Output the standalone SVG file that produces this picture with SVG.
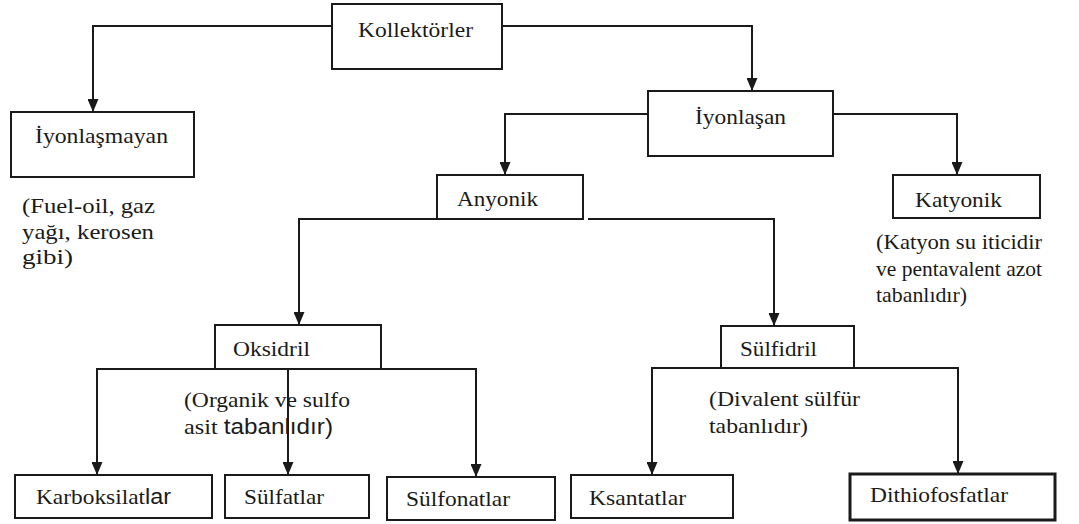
<svg xmlns="http://www.w3.org/2000/svg" width="1079" height="524" viewBox="0 0 1079 524">
<style>
.box{fill:#fff;stroke:#1a1a1a;stroke-width:2}
.thick{stroke-width:3}
.t{font-family:"Liberation Serif","Tinos","Noto Serif","DejaVu Serif","Times New Roman",Times,serif;font-size:22px;fill:#1a1a1a}
.s{font-family:"Liberation Sans",Arial,sans-serif}
.c{fill:none;stroke:#1a1a1a;stroke-width:2}
</style>
<defs>
<marker id="ah" markerUnits="userSpaceOnUse" markerWidth="13" markerHeight="11" refX="13" refY="5.5" orient="auto">
<path d="M0,0 L13,5.5 L0,11 z" fill="#1a1a1a"/>
</marker>
</defs>
<rect width="1079" height="524" fill="#fff"/>
<g id="connectors">
<path class="c" d="M332,26 H93 V112" marker-end="url(#ah)"/>
<path class="c" d="M502,26 H752 V91" marker-end="url(#ah)"/>
<path class="c" d="M648,114 H505 V175" marker-end="url(#ah)"/>
<path class="c" d="M833,114 H957 V175" marker-end="url(#ah)"/>
<path class="c" d="M437,219 H299 V325" marker-end="url(#ah)"/>
<path class="c" d="M588,219 H774 V326" marker-end="url(#ah)"/>
<path class="c" d="M215,369 H97 V475" marker-end="url(#ah)"/>
<path class="c" d="M288,369 V475" marker-end="url(#ah)"/>
<path class="c" d="M381,369 H476 V477" marker-end="url(#ah)"/>
<path class="c" d="M721,368 H652 V475" marker-end="url(#ah)"/>
<path class="c" d="M854,368 H958 V474" marker-end="url(#ah)"/>
</g>
<g id="kollektorler">
<rect class="box" x="332" y="4" width="170" height="65"/>
<text class="t" x="358" y="37" textLength="115" lengthAdjust="spacingAndGlyphs">Kollektörler</text>
</g>
<g id="iyonlasmayan">
<rect class="box" x="11" y="112" width="183" height="65"/>
<text class="t" x="35" y="143" textLength="133" lengthAdjust="spacingAndGlyphs">İyonlaşmayan</text>
</g>
<g id="iyonlasmayan-note">
<text class="t" x="22" y="213" textLength="133" lengthAdjust="spacingAndGlyphs">(Fuel-oil, gaz</text>
<text class="t" x="22" y="239" textLength="132" lengthAdjust="spacingAndGlyphs">yağı, kerosen</text>
<text class="t" x="22" y="264" textLength="51" lengthAdjust="spacingAndGlyphs">gibi)</text>
</g>
<g id="iyonlasan">
<rect class="box" x="648" y="91" width="185" height="65"/>
<text class="t" x="695" y="124" textLength="91" lengthAdjust="spacingAndGlyphs">İyonlaşan</text>
</g>
<g id="anyonik">
<rect class="box" x="437" y="175" width="146" height="44"/>
<text class="t" x="457" y="206" textLength="81" lengthAdjust="spacingAndGlyphs">Anyonik</text>
</g>
<g id="katyonik">
<rect class="box" x="893" y="175" width="147" height="43"/>
<text class="t" x="915" y="207" textLength="87" lengthAdjust="spacingAndGlyphs">Katyonik</text>
</g>
<g id="katyonik-note">
<text class="t" x="876" y="249" textLength="166" lengthAdjust="spacingAndGlyphs">(Katyon su iticidir</text>
<text class="t" x="876" y="276" textLength="166" lengthAdjust="spacingAndGlyphs">ve pentavalent azot</text>
<text class="t" x="876" y="302" textLength="91" lengthAdjust="spacingAndGlyphs">tabanlıdır)</text>
</g>
<g id="oksidril">
<rect class="box" x="215" y="325" width="166" height="44"/>
<text class="t" x="233" y="356" textLength="77" lengthAdjust="spacingAndGlyphs">Oksidril</text>
</g>
<g id="oksidril-note">
<text class="t" x="184" y="407" textLength="166" lengthAdjust="spacingAndGlyphs">(Organik ve sulfo</text>
<text class="t" x="184" y="434" textLength="149" lengthAdjust="spacingAndGlyphs">asit <tspan class="s">tabanlıdır)</tspan></text>
</g>
<g id="sulfidril">
<rect class="box" x="721" y="326" width="133" height="42"/>
<text class="t" x="740" y="356" textLength="77" lengthAdjust="spacingAndGlyphs">Sülfidril</text>
</g>
<g id="sulfidril-note">
<text class="t" x="709" y="406" textLength="151" lengthAdjust="spacingAndGlyphs">(Divalent sülfür</text>
<text class="t" x="709" y="433" textLength="99" lengthAdjust="spacingAndGlyphs">tabanlıdır)</text>
</g>
<g id="karboksilatlar">
<rect class="box" x="15" y="475" width="197" height="43"/>
<text class="t" x="36" y="504" textLength="135" lengthAdjust="spacingAndGlyphs">Karboksilat<tspan class="s">lar</tspan></text>
</g>
<g id="sulfatlar">
<rect class="box" x="225" y="475" width="144" height="43"/>
<text class="t" x="244" y="504" textLength="80" lengthAdjust="spacingAndGlyphs">Sülfatlar</text>
</g>
<g id="sulfonatlar">
<rect class="box" x="387" y="477" width="168" height="43"/>
<text class="t" x="406" y="506" textLength="104" lengthAdjust="spacingAndGlyphs">Sülfonatlar</text>
</g>
<g id="ksantatlar">
<rect class="box" x="571" y="475" width="162" height="43"/>
<text class="t" x="589" y="505" textLength="97" lengthAdjust="spacingAndGlyphs">Ksantatlar</text>
</g>
<g id="dithiofosfatlar">
<rect class="box thick" x="850" y="474" width="205" height="46"/>
<text class="t" x="870" y="502" textLength="138" lengthAdjust="spacingAndGlyphs">Dithiofosfatlar</text>
</g>
</svg>
